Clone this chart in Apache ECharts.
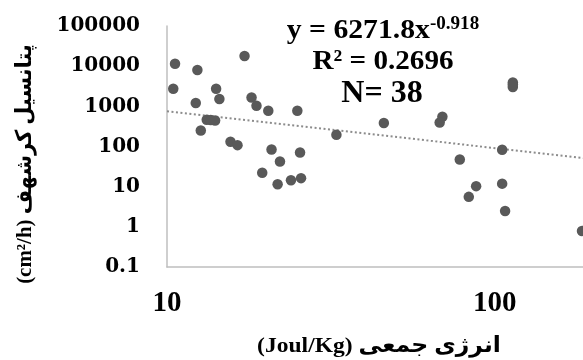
<!DOCTYPE html>
<html><head><meta charset="utf-8">
<script src="https://cdn.jsdelivr.net/npm/echarts@6/dist/echarts.min.js"></script>
<style>html,body{margin:0;padding:0;background:#fff}#c{width:583px;height:360px}</style>
</head><body><div id="c"></div>
<script>
// Data
const energy = [10.58, 10.45, 12.38, 12.24, 12.68, 13.22, 14.02, 14.12, 14.45, 17.24, 15.62, 16.41, 18.11, 18.75, 20.37, 24.98, 20.84, 22.11, 25.46, 19.52, 21.75, 23.89, 25.64, 32.87, 45.87, 69.2, 67.9, 113.5, 113.5, 78.2, 105.3, 87.7, 83.3, 105.3, 107.5, 184.5, 13.6, 113.5];
const potential = [11535, 2748, 8035, 1208, 251, 463, 445, 2748, 1521, 17950, 131, 108, 1667, 1035, 777, 777, 84, 42.3, 70.8, 22.1, 11.5, 14.5, 16.3, 196, 383, 550, 397, 3945, 3030, 47.4, 82.7, 10.3, 5.57, 11.9, 2.49, 0.79, 455, 3500];
const trendX = [10, 190];
const trendY = [757, 50.7];
const xMin = 10, xMax = 185.8;
const yMin = 0.1, yMax = 100000;
const eqMain = 'y = 6271.8x';
const eqExp = '-0.918';
const r2Text = 'R² = 0.2696';
const nText = 'N= 38';
const xName = '(Joul/Kg) انرژی جمعی';
const yName = '(cm²/h) پتانسیل کرشهف';

const scatterData = energy.map((x, i) => [x, potential[i]]);
const trendData = trendX.map((x, i) => [x, trendY[i]]);

const serif = "'Liberation Serif', 'DejaVu Sans', serif";
const chart = echarts.init(document.getElementById('c'), null, {renderer: 'canvas'});
chart.setOption({
  animation: false,
  backgroundColor: '#fff',
  grid: {left: 167, top: 26, bottom: 93, right: 0, containLabel: false},
  xAxis: {
    type: 'log', logBase: 10, min: xMin, max: xMax,
    axisLine: {show: true, lineStyle: {color: '#bfbfbf', width: 1.5}},
    axisTick: {show: false}, splitLine: {show: false},
    axisLabel: {fontFamily: serif, fontWeight: 'bold', fontSize: 29, color: '#000', margin: 22,
      showMaxLabel: false,
      formatter: v => String(Number(v.toPrecision(6)))}
  },
  yAxis: {
    type: 'log', logBase: 10, min: yMin, max: yMax,
    axisLine: {show: true, lineStyle: {color: '#bfbfbf', width: 1.5}},
    axisTick: {show: false}, splitLine: {show: false},
    axisLabel: {fontFamily: "'DejaVu Serif', serif", fontWeight: 'bold', fontSize: 20, color: '#000', margin: 27,
      formatter: v => String(Number(v.toPrecision(6)))}
  },
  series: [
    {type: 'line', data: trendData, symbol: 'none', silent: true, z: 1, clip: true,
      lineStyle: {color: '#8c8c8c', width: 2, type: [2, 2.5]}},
    {type: 'scatter', data: scatterData, symbolSize: 10.5, z: 2, clip: false,
      itemStyle: {color: '#595959', opacity: 1}}
  ],
  graphic: [
    {type: 'text', x: 383, y: 30, scaleX: 1.06, style: {
      text: '{a|' + eqMain + '}{s|' + eqExp + '}', align: 'center', verticalAlign: 'middle',
      rich: {
        a: {font: "bold 28px 'Liberation Serif'", fill: '#000', lineHeight: 30, verticalAlign: 'bottom'},
        s: {font: "bold 18px 'Liberation Serif'", fill: '#000', lineHeight: 30, verticalAlign: 'top', padding: [0, 0, 0, 0]}
      }}},
    {type: 'text', x: 383, y: 62, scaleX: 1.04, style: {text: r2Text, font: "bold 28px 'Liberation Serif'", fill: '#000', align: 'center', verticalAlign: 'middle'}},
    {type: 'text', x: 382, y: 94, style: {text: nText, font: "bold 32px 'Liberation Serif'", fill: '#000', align: 'center', verticalAlign: 'middle'}},
    {type: 'text', x: 379, y: 346, scaleX: 1.07, style: {text: xName, font: "bold 22px " + serif, fill: '#000', align: 'center', verticalAlign: 'middle'}},
    {type: 'text', x: 25, y: 164, rotation: Math.PI / 2, scaleX: 0.95, style: {text: yName, font: "bold 22px " + serif, fill: '#000', align: 'center', verticalAlign: 'middle'}}
  ]
});
</script></body></html>
